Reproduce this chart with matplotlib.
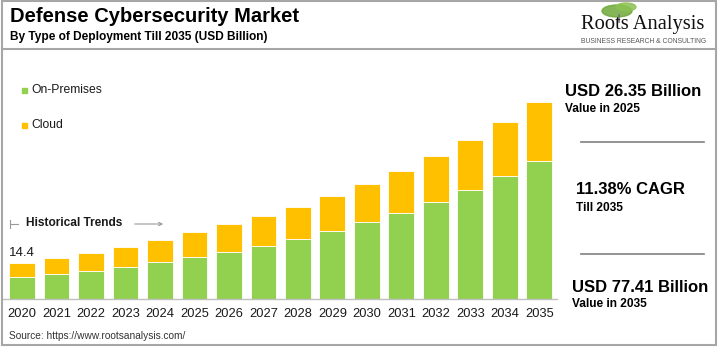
import matplotlib
matplotlib.use("Agg")
import matplotlib.pyplot as plt
from matplotlib.patches import Rectangle, Ellipse, FancyArrowPatch
from matplotlib.lines import Line2D
import numpy as np

plt.rcParams['font.family'] = ['Liberation Sans', 'DejaVu Sans']

years = ["2020", "2021", "2022", "2023", "2024", "2025", "2026", "2027",
         "2028", "2029", "2030", "2031", "2032", "2033", "2034", "2035"]
total = [14.4, 16.1, 18.3, 20.5, 23.3, 26.35, 29.4, 32.7,
         36.2, 40.5, 45.1, 50.4, 56.1, 62.3, 69.5, 77.41]
on_premises = [8.6, 9.8, 11.1, 12.5, 14.6, 16.5, 18.7, 21.0,
               23.6, 26.7, 30.2, 34.0, 38.1, 43.0, 48.2, 54.2]
cloud = [round(t - o, 2) for t, o in zip(total, on_premises)]

GREEN = "#92D050"
YELLOW = "#FFC000"
GRAY = "#A6A6A6"

W, H = 718, 350
fig = plt.figure(figsize=(W / 100, H / 100), dpi=100)

def fx(x):
    return x / W

def fy(y):
    return 1 - y / H

# axes in pixel coordinates
ax_left, ax_right, ax_top, ax_bottom = 3, 557, 60, 299.3
ax = fig.add_axes([fx(ax_left), fy(ax_bottom), (ax_right - ax_left) / W, (ax_bottom - ax_top) / H])
x = np.arange(len(years))
ax.bar(x, on_premises, width=0.75, color=GREEN, edgecolor="white", linewidth=0.6)
ax.bar(x, cloud, bottom=on_premises, width=0.75, color=YELLOW, edgecolor="white", linewidth=0.6)
ax.set_xlim(-0.55, 15.51)
ax.set_ylim(0, (ax_bottom - ax_top) * 0.392)
for s in ["top", "right", "left"]:
    ax.spines[s].set_visible(False)
ax.spines["bottom"].set_color("#BFBFBF")
ax.spines["bottom"].set_linewidth(1.0)
ax.set_yticks([])
ax.set_xticks(x)
ax.set_xticklabels(years, fontsize=9.3, color="#1a1a1a")
ax.tick_params(axis="x", length=0, pad=6)
ax.patch.set_alpha(0)

# label on first bar
ax.text(x[0], total[0] + 1.5, "14.4", ha="center", va="bottom", fontsize=9.5, color="#1a1a1a")

# frame and header separator
fig.patches.append(Rectangle((fx(2), fy(345)), (716 - 2) / W, (345 - 1) / H,
                             transform=fig.transFigure, fill=False, edgecolor=GRAY, linewidth=1.5))
fig.lines.append(Line2D([fx(2), fx(716)], [fy(49), fy(49)], transform=fig.transFigure,
                        color=GRAY, linewidth=1.5))

# titles
fig.text(fx(10), fy(16), "Defense Cybersecurity Market", fontsize=14.5, fontweight="bold",
         ha="left", va="center", color="#000000")
fig.text(fx(10), fy(37), "By Type of Deployment Till 2035 (USD Billion)", fontsize=8.6,
         fontweight="bold", ha="left", va="center", color="#000000")

# logo
fig.patches.append(Ellipse((fx(617), fy(11)), 30 / W, 12 / H, transform=fig.transFigure,
                           color="#6FA83A", alpha=0.85))
fig.patches.append(Ellipse((fx(626), fy(7)), 20 / W, 8 / H, transform=fig.transFigure,
                           color="#8CC152", alpha=0.85))
fig.lines.append(Line2D([fx(619), fx(619)], [fy(15), fy(22)], transform=fig.transFigure,
                        color="#777777", linewidth=1.2))
fig.text(fx(643), fy(25), "Roots Analysis", fontsize=14.8, family=["Liberation Serif", "DejaVu Serif"],
         ha="center", va="center", color="#111111")
fig.text(fx(644), fy(41.5), "BUSINESS RESEARCH & CONSULTING", fontsize=4.9,
         ha="center", va="center", color="#555555")

# legend
for yy, col, lab in [(90, GREEN, "On-Premises"), (125, YELLOW, "Cloud")]:
    fig.patches.append(Rectangle((fx(22), fy(yy + 2.5)), 5 / W, 5 / H, transform=fig.transFigure,
                                 color=col))
    fig.text(fx(31), fy(yy), lab, fontsize=8.7, ha="left", va="center", color="#1a1a1a")

# historical trends
fig.lines.append(Line2D([fx(10), fx(18)], [fy(224), fy(224)], transform=fig.transFigure,
                        color="#999999", linewidth=0.8))
fig.lines.append(Line2D([fx(10), fx(10)], [fy(220), fy(228)], transform=fig.transFigure,
                        color="#999999", linewidth=0.8))
fig.text(fx(26), fy(223), "Historical Trends", fontsize=8.6, fontweight="bold",
         ha="left", va="center", color="#1a1a1a")
fig.patches.append(FancyArrowPatch((fx(132), fy(224)), (fx(166), fy(224)),
                   transform=fig.transFigure, arrowstyle="->", mutation_scale=6,
                   color="#999999", linewidth=0.8))

# source
fig.text(fx(9), fy(336), "Source: https://www.rootsanalysis.com/", fontsize=7.3,
         ha="left", va="center", color="#333333")

# right panel
fig.text(fx(565), fy(92), "USD 26.35 Billion", fontsize=12, fontweight="bold",
         ha="left", va="center", color="#000000")
fig.text(fx(565), fy(109), "Value in 2025", fontsize=8.6, fontweight="bold",
         ha="left", va="center", color="#000000")
fig.lines.append(Line2D([fx(581), fx(704)], [fy(142), fy(142)], transform=fig.transFigure,
                        color="#808080", linewidth=1.2))
fig.text(fx(576), fy(190), "11.38% CAGR", fontsize=12, fontweight="bold",
         ha="left", va="center", color="#000000")
fig.text(fx(576), fy(208), "Till 2035", fontsize=8.6, fontweight="bold",
         ha="left", va="center", color="#000000")
fig.lines.append(Line2D([fx(581), fx(704)], [fy(254), fy(254)], transform=fig.transFigure,
                        color="#808080", linewidth=1.2))
fig.text(fx(572), fy(287), "USD 77.41 Billion", fontsize=12, fontweight="bold",
         ha="left", va="center", color="#000000")
fig.text(fx(572), fy(304), "Value in 2035", fontsize=8.6, fontweight="bold",
         ha="left", va="center", color="#000000")

fig.savefig("out.png", dpi=100)
